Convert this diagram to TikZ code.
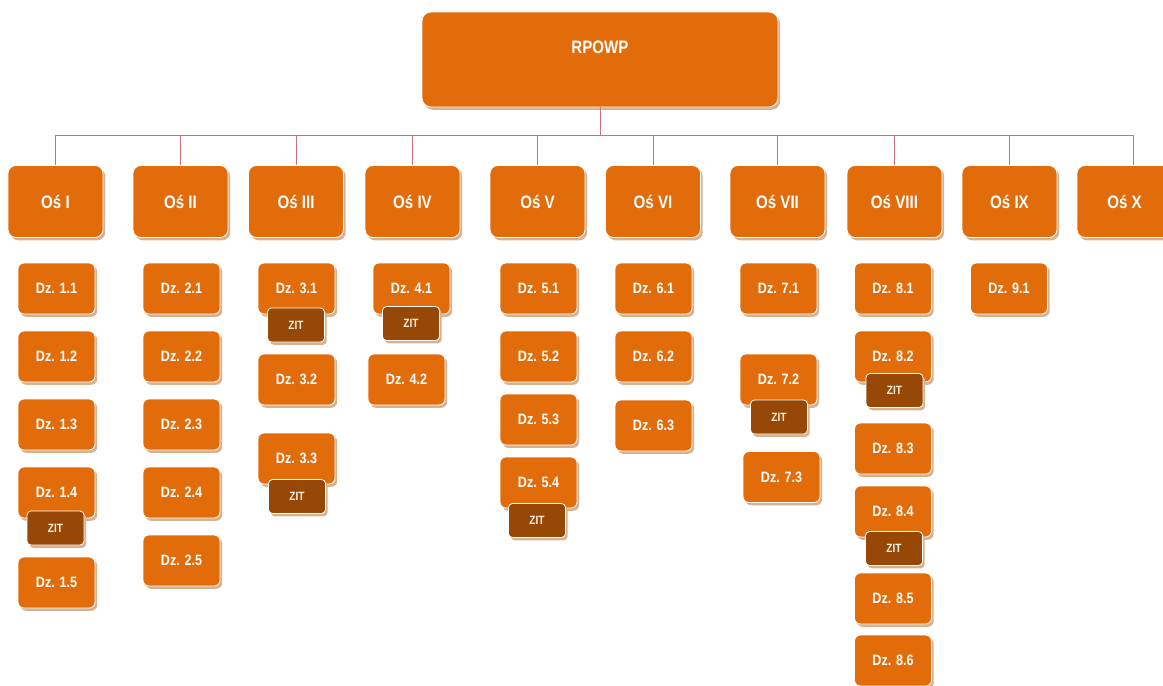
\documentclass[tikz,border=0pt]{standalone}
\usepackage{fontspec}
\usepackage{tikz}
\usepackage{xcolor}
\usetikzlibrary{shadows}
\newfontfamily\boxfont{Liberation Sans}[FakeStretch=0.84]
\definecolor{osorange}{RGB}{227,108,10}
\definecolor{zitbrown}{RGB}{151,72,6}
\definecolor{shadowtan}{RGB}{214,178,144}
\definecolor{linkred}{RGB}{206,112,122}

\begin{document}
\begin{tikzpicture}[x=1pt,y=-1pt,
 base/.style={draw=white,line width=0.8pt,fill=osorange,text=white,inner sep=0pt,
  font=\boxfont\bfseries,drop shadow={shadow xshift=2.2pt,shadow yshift=-2.8pt,fill=shadowtan,opacity=1}},
 topbox/.style={base,rounded corners=9pt,minimum width=356pt,minimum height=95pt,font=\boxfont\bfseries\fontsize{18}{20}\selectfont,text height=13pt,text depth=26pt},
 osbox/.style={base,rounded corners=8pt,minimum width=95pt,minimum height=72pt,font=\boxfont\bfseries\fontsize{18}{20}\selectfont},
 dzbox/.style={base,rounded corners=6pt,minimum width=77pt,minimum height=51pt,font=\boxfont\bfseries\fontsize{15}{17}\selectfont},
 zitbox/.style={base,fill=zitbrown,text=white!88!orange,rounded corners=4pt,minimum width=57pt,minimum height=34pt,font=\boxfont\bfseries\fontsize{12}{13}\selectfont},
 link/.style={draw=linkred,line width=0.9pt}]
 \useasboundingbox (0,0) rectangle (1163,686);
 % top level
 \node[topbox] (rpowp) at (600,59.5) {RPOWP};
 % axes
 \node[osbox] (os1) at (55.5,201.5) {Oś I};
 \node[osbox] (os2) at (180.5,201.5) {Oś II};
 \node[osbox] (os3) at (296,201.5) {Oś III};
 \node[osbox] (os4) at (412.5,201.5) {Oś IV};
 \node[osbox] (os5) at (537.5,201.5) {Oś V};
 \node[osbox] (os6) at (653,201.5) {Oś VI};
 \node[osbox] (os7) at (777.5,201.5) {Oś VII};
 \node[osbox] (os8) at (894.5,201.5) {Oś VIII};
 \node[osbox] (os9) at (1009.5,201.5) {Oś IX};
 \node[osbox] (os10) at (1124.5,201.5) {Oś X};
 \draw[link] (rpowp.south) -- ++(0,28) -| (os1.north);
 \draw[link] (rpowp.south) -- ++(0,28) -| (os2.north);
 \draw[link] (rpowp.south) -- ++(0,28) -| (os3.north);
 \draw[link] (rpowp.south) -- ++(0,28) -| (os4.north);
 \draw[link] (rpowp.south) -- ++(0,28) -| (os5.north);
 \draw[link] (rpowp.south) -- ++(0,28) -| (os6.north);
 \draw[link] (rpowp.south) -- ++(0,28) -| (os7.north);
 \draw[link] (rpowp.south) -- ++(0,28) -| (os8.north);
 \draw[link] (rpowp.south) -- ++(0,28) -| (os9.north);
 \draw[link] (rpowp.south) -- ++(0,28) -| ([xshift=8.5pt]os10.north);
 % measures, axis I
 \node[dzbox] (dz11) at (56.5,288.5) {Dz. 1.1};
 \node[dzbox] (dz12) at (56.5,356.5) {Dz. 1.2};
 \node[dzbox] (dz13) at (56.5,424.5) {Dz. 1.3};
 \node[dzbox] (dz14) at (56.5,492.5) {Dz. 1.4};
 \node[zitbox] (zit14) at (55.5,528) {ZIT};
 \node[dzbox] (dz15) at (56.5,582.5) {Dz. 1.5};
 % axis II
 \node[dzbox] (dz21) at (181.5,288.5) {Dz. 2.1};
 \node[dzbox] (dz22) at (181.5,356.5) {Dz. 2.2};
 \node[dzbox] (dz23) at (181.5,424.5) {Dz. 2.3};
 \node[dzbox] (dz24) at (181.5,492.5) {Dz. 2.4};
 \node[dzbox] (dz25) at (181.5,560.5) {Dz. 2.5};
 % axis III
 \node[dzbox] (dz31) at (296.5,288.5) {Dz. 3.1};
 \node[zitbox] (zit31) at (296,325) {ZIT};
 \node[dzbox] (dz32) at (296.5,379.5) {Dz. 3.2};
 \node[dzbox] (dz33) at (296.5,458.5) {Dz. 3.3};
 \node[zitbox] (zit33) at (297,496.5) {ZIT};
 % axis IV
 \node[dzbox] (dz41) at (411.5,288.5) {Dz. 4.1};
 \node[zitbox] (zit41) at (411,323.5) {ZIT};
 \node[dzbox] (dz42) at (406.5,379.5) {Dz. 4.2};
 % axis V
 \node[dzbox] (dz51) at (538.5,288.5) {Dz. 5.1};
 \node[dzbox] (dz52) at (538.5,356.5) {Dz. 5.2};
 \node[dzbox] (dz53) at (538.5,419.5) {Dz. 5.3};
 \node[dzbox] (dz54) at (538.5,482.5) {Dz. 5.4};
 \node[zitbox] (zit54) at (537,520.5) {ZIT};
 % axis VI
 \node[dzbox] (dz61) at (653.5,288.5) {Dz. 6.1};
 \node[dzbox] (dz62) at (653.5,356.5) {Dz. 6.2};
 \node[dzbox] (dz63) at (653.5,425.5) {Dz. 6.3};
 % axis VII
 \node[dzbox] (dz71) at (778.5,288.5) {Dz. 7.1};
 \node[dzbox] (dz72) at (778.5,379.5) {Dz. 7.2};
 \node[zitbox] (zit72) at (779,417) {ZIT};
 \node[dzbox] (dz73) at (781.5,477) {Dz. 7.3};
 % axis VIII
 \node[dzbox] (dz81) at (893,288.5) {Dz. 8.1};
 \node[dzbox] (dz82) at (893,356.5) {Dz. 8.2};
 \node[zitbox] (zit82) at (894.5,390.5) {ZIT};
 \node[dzbox] (dz83) at (893,448.5) {Dz. 8.3};
 \node[dzbox] (dz84) at (893,511.5) {Dz. 8.4};
 \node[zitbox] (zit84) at (894,548.5) {ZIT};
 \node[dzbox] (dz85) at (893,598.5) {Dz. 8.5};
 \node[dzbox] (dz86) at (893,660.5) {Dz. 8.6};
 % axis IX
 \node[dzbox] (dz91) at (1009,288.5) {Dz. 9.1};
\end{tikzpicture}
\end{document}
